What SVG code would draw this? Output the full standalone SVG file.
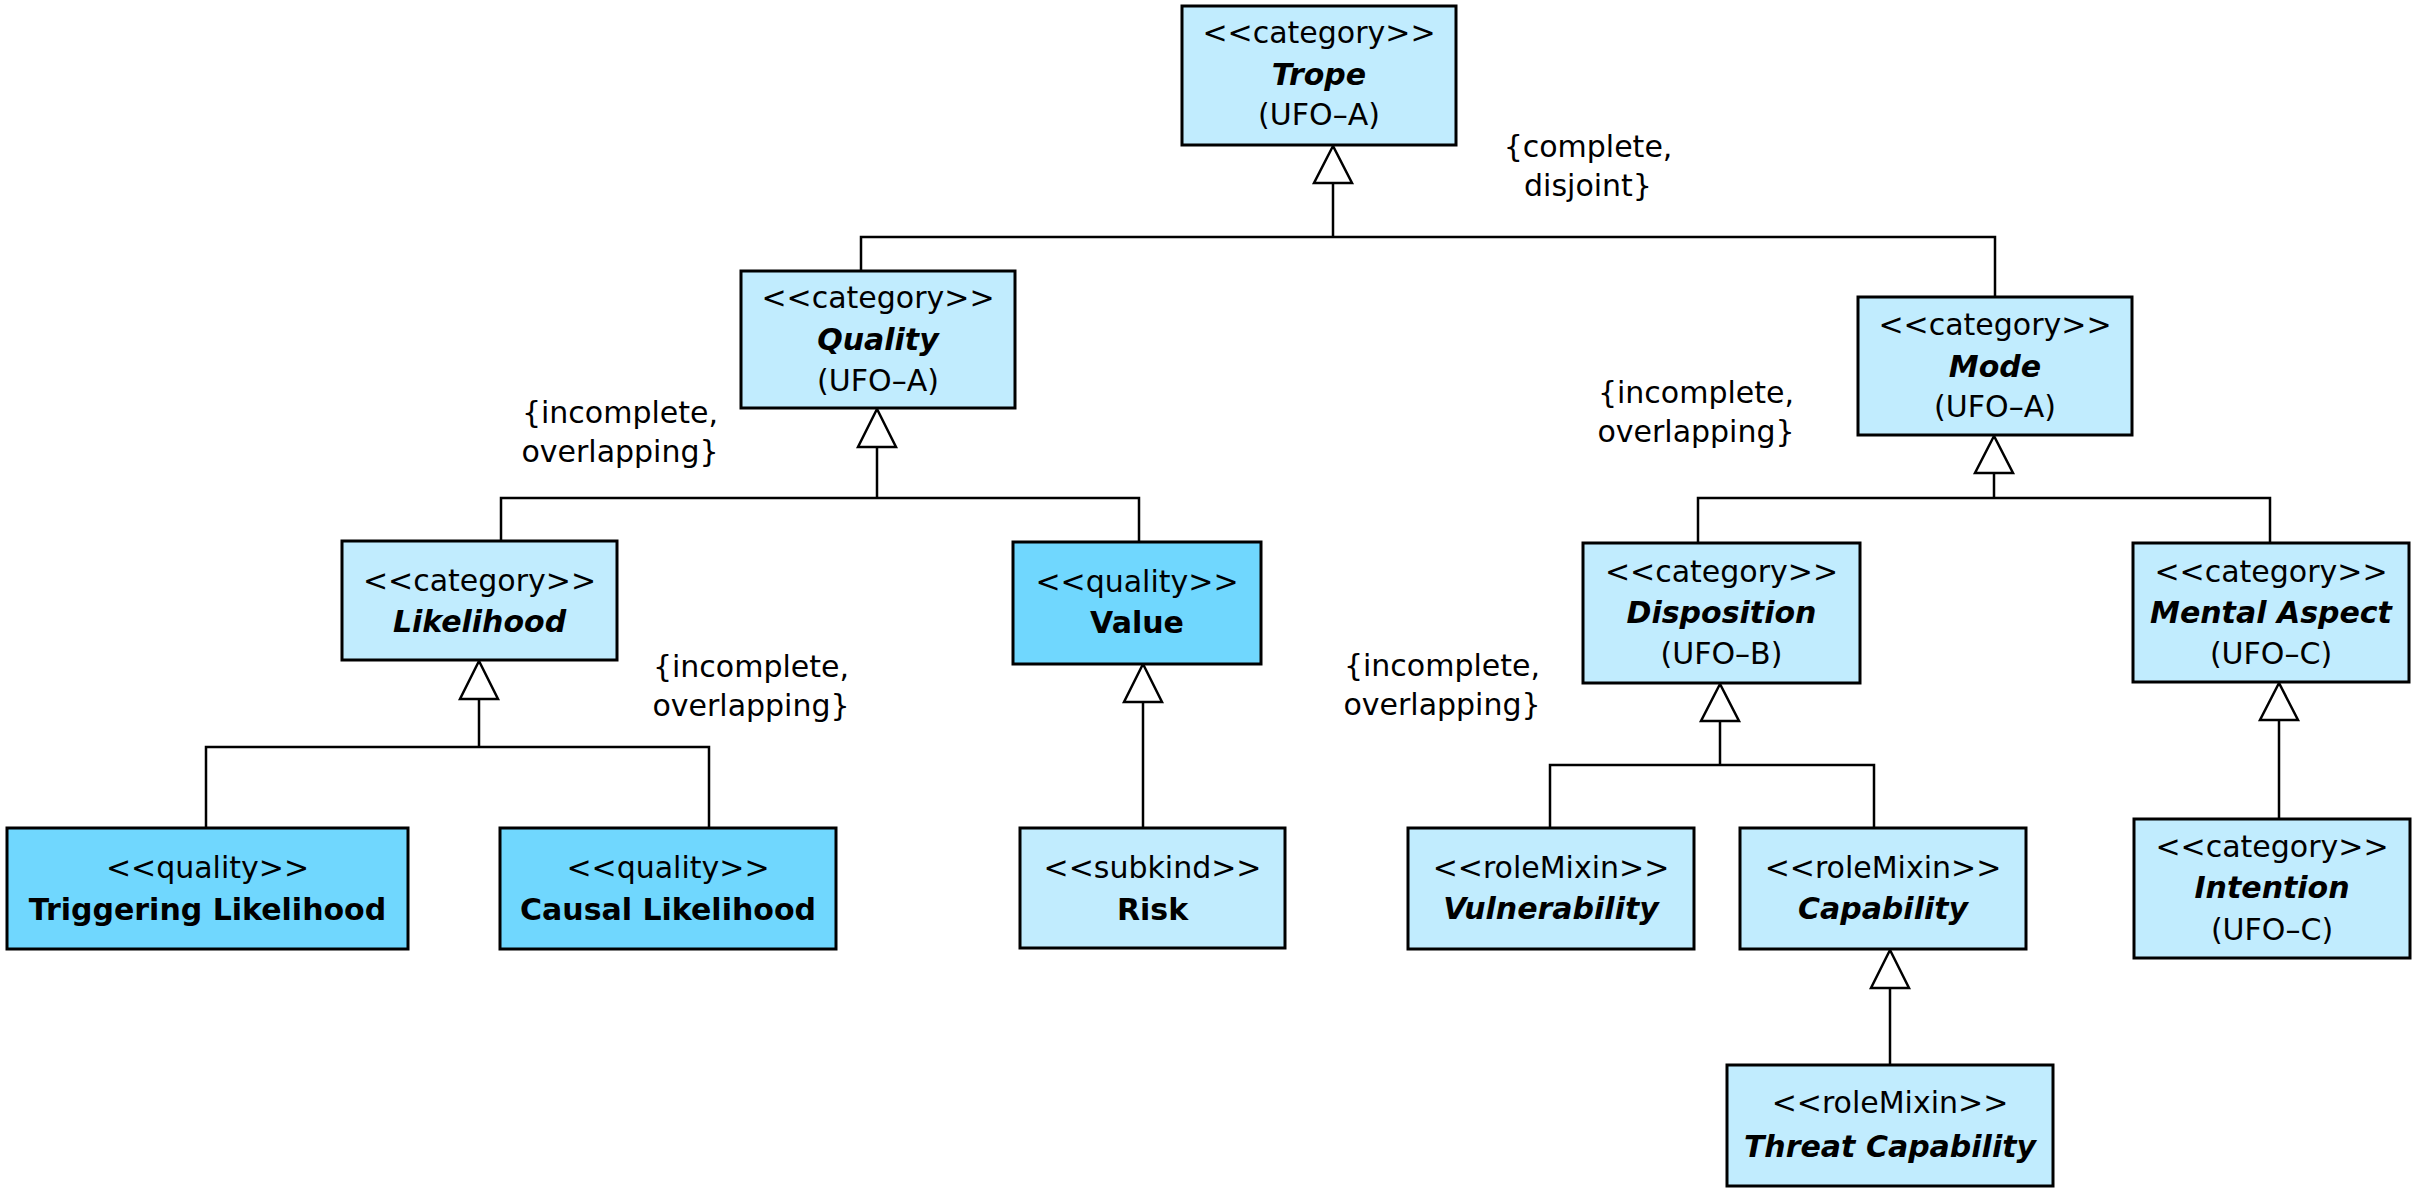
<svg xmlns="http://www.w3.org/2000/svg" width="2415" height="1197" viewBox="0 0 2415 1197">
<style>
text{font-family:"DejaVu Sans","Liberation Sans",sans-serif;font-size:30px;fill:#000;text-anchor:middle}
.n{font-weight:bold;font-style:italic}
.b{font-weight:bold}
.box{fill:#C1ECFE;stroke:#000;stroke-width:3}
.dk{fill:#70D7FE}
.ln{fill:none;stroke:#000;stroke-width:2.5}
.tri{fill:#fff;stroke:#000;stroke-width:2.5;stroke-linejoin:miter}
</style>
<rect width="2415" height="1197" fill="#fff"/>
<g id="connectors">
  <!-- Trope generalization set -->
  <polyline class="ln" points="1333,183 1333,237"/>
  <polyline class="ln" points="861,271 861,237 1995,237 1995,297"/>
  <polygon class="tri" points="1333,146 1314,183 1352,183"/>
  <!-- Quality -->
  <polyline class="ln" points="877,447 877,498"/>
  <polyline class="ln" points="501,541 501,498 1139,498 1139,541"/>
  <polygon class="tri" points="877,409 858,447 896,447"/>
  <!-- Likelihood -->
  <polyline class="ln" points="479,699 479,747"/>
  <polyline class="ln" points="206,828 206,747 709,747 709,828"/>
  <polygon class="tri" points="479,661 460,699 498,699"/>
  <!-- Value -> Risk -->
  <polyline class="ln" points="1143,702 1143,828"/>
  <polygon class="tri" points="1143,664 1124,702 1162,702"/>
  <!-- Mode -->
  <polyline class="ln" points="1994,473 1994,498"/>
  <polyline class="ln" points="1698,543 1698,498 2270,498 2270,543"/>
  <polygon class="tri" points="1994,436 1975,473 2013,473"/>
  <!-- Disposition -->
  <polyline class="ln" points="1720,721 1720,765"/>
  <polyline class="ln" points="1550,828 1550,765 1874,765 1874,828"/>
  <polygon class="tri" points="1720,684 1701,721 1739,721"/>
  <!-- Capability -> Threat Capability -->
  <polyline class="ln" points="1890,988 1890,1065"/>
  <polygon class="tri" points="1890,950 1871,988 1909,988"/>
  <!-- Mental Aspect -> Intention -->
  <polyline class="ln" points="2279,720 2279,819"/>
  <polygon class="tri" points="2279,683 2260,720 2298,720"/>
</g>
<g id="labels">
  <text x="1588" y="157">{complete,</text>
  <text x="1588" y="196">disjoint}</text>
  <text x="620" y="423">{incomplete,</text>
  <text x="620" y="462">overlapping}</text>
  <text x="1696" y="403">{incomplete,</text>
  <text x="1696" y="442">overlapping}</text>
  <text x="751" y="677">{incomplete,</text>
  <text x="751" y="716">overlapping}</text>
  <text x="1442" y="676">{incomplete,</text>
  <text x="1442" y="715">overlapping}</text>
</g>
<g id="trope">
  <rect class="box" x="1182" y="6" width="274" height="139"/>
  <text x="1319" y="43">&lt;&lt;category&gt;&gt;</text>
  <text class="n" x="1319" y="85">Trope</text>
  <text x="1319" y="125">(UFO–A)</text>
</g>
<g id="quality">
  <rect class="box" x="741" y="271" width="274" height="137"/>
  <text x="878" y="308">&lt;&lt;category&gt;&gt;</text>
  <text class="n" x="878" y="350">Quality</text>
  <text x="878" y="391">(UFO–A)</text>
</g>
<g id="mode">
  <rect class="box" x="1858" y="297" width="274" height="138"/>
  <text x="1995" y="335">&lt;&lt;category&gt;&gt;</text>
  <text class="n" x="1995" y="377">Mode</text>
  <text x="1995" y="417">(UFO–A)</text>
</g>
<g id="likelihood">
  <rect class="box" x="342" y="541" width="275" height="119"/>
  <text x="479.5" y="591">&lt;&lt;category&gt;&gt;</text>
  <text class="n" x="479.5" y="632">Likelihood</text>
</g>
<g id="value">
  <rect class="box dk" x="1013" y="542" width="248" height="122"/>
  <text x="1137" y="592">&lt;&lt;quality&gt;&gt;</text>
  <text class="b" x="1137" y="633">Value</text>
</g>
<g id="triggering-likelihood">
  <rect class="box dk" x="7" y="828" width="401" height="121"/>
  <text x="207.5" y="878">&lt;&lt;quality&gt;&gt;</text>
  <text class="b" x="207.5" y="920">Triggering Likelihood</text>
</g>
<g id="causal-likelihood">
  <rect class="box dk" x="500" y="828" width="336" height="121"/>
  <text x="668" y="878">&lt;&lt;quality&gt;&gt;</text>
  <text class="b" x="668" y="920">Causal Likelihood</text>
</g>
<g id="risk">
  <rect class="box" x="1020" y="828" width="265" height="120"/>
  <text x="1152.5" y="878">&lt;&lt;subkind&gt;&gt;</text>
  <text class="b" x="1152.5" y="920">Risk</text>
</g>
<g id="disposition">
  <rect class="box" x="1583" y="543" width="277" height="140"/>
  <text x="1721.5" y="582">&lt;&lt;category&gt;&gt;</text>
  <text class="n" x="1721.5" y="623">Disposition</text>
  <text x="1721.5" y="664">(UFO–B)</text>
</g>
<g id="mental-aspect">
  <rect class="box" x="2133" y="543" width="276" height="139"/>
  <text x="2271" y="582">&lt;&lt;category&gt;&gt;</text>
  <text class="n" x="2271" y="623">Mental Aspect</text>
  <text x="2271" y="664">(UFO–C)</text>
</g>
<g id="vulnerability">
  <rect class="box" x="1408" y="828" width="286" height="121"/>
  <text x="1551" y="878">&lt;&lt;roleMixin&gt;&gt;</text>
  <text class="n" x="1551" y="919">Vulnerability</text>
</g>
<g id="capability">
  <rect class="box" x="1740" y="828" width="286" height="121"/>
  <text x="1883" y="878">&lt;&lt;roleMixin&gt;&gt;</text>
  <text class="n" x="1883" y="919">Capability</text>
</g>
<g id="threat-capability">
  <rect class="box" x="1727" y="1065" width="326" height="121"/>
  <text x="1890" y="1113">&lt;&lt;roleMixin&gt;&gt;</text>
  <text class="n" x="1890" y="1157">Threat Capability</text>
</g>
<g id="intention">
  <rect class="box" x="2134" y="819" width="276" height="139"/>
  <text x="2272" y="857">&lt;&lt;category&gt;&gt;</text>
  <text class="n" x="2272" y="898">Intention</text>
  <text x="2272" y="940">(UFO–C)</text>
</g>
</svg>
